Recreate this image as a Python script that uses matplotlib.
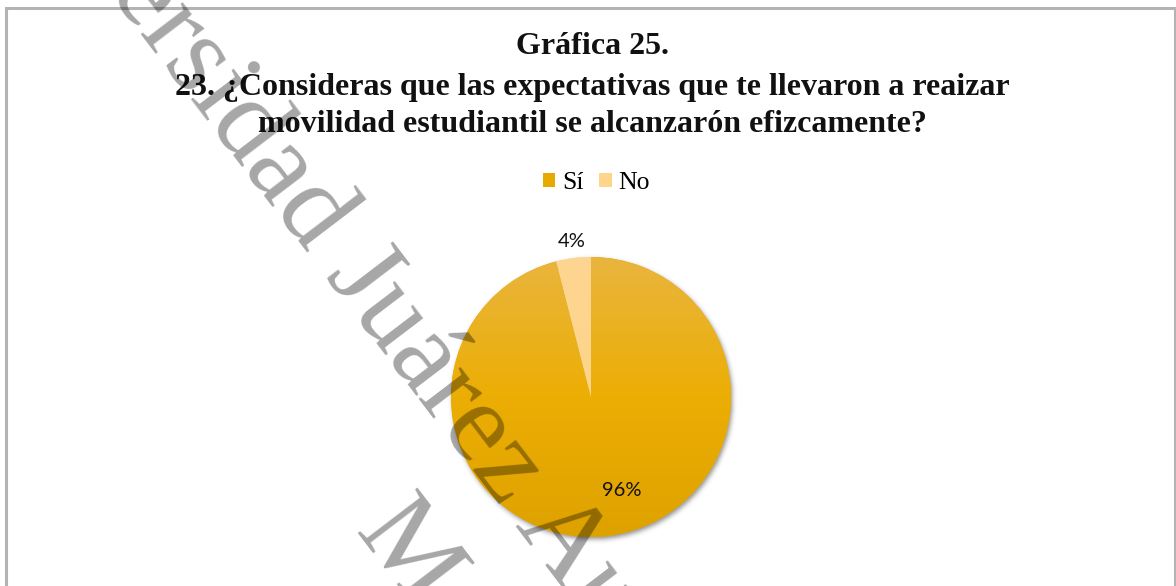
import numpy as np
import matplotlib
matplotlib.use("Agg")
import matplotlib.pyplot as plt
from matplotlib.patches import Patch, Rectangle

# ---- data ----
categories = ["Sí", "No"]
values = [96, 4]
pct_labels = ["96%", "4%"]
title_lines = ["Gráfica 25.",
               "23. ¿Consideras que las expectativas que te llevaron a reaizar",
               "movilidad estudiantil se alcanzarón efizcamente?"]
watermark_lines = ["Universidad Juárez Autónoma de Tabasco", "México"]

W, H = 1176, 586
fig = plt.figure(figsize=(W / 100, H / 100), dpi=100)
fig.patch.set_facecolor("white")

def fx(x):
    return x / W

def fy(y):
    return 1 - y / H

# frame
fig.add_artist(Rectangle((fx(6), fy(708)), fx(1169), 700 / H, transform=fig.transFigure,
                         fill=False, edgecolor="#b3b3b3", linewidth=2.2, zorder=0))

serif = "Liberation Serif"
# title
ty = [47, 87, 125]
for line, y in zip(title_lines, ty):
    fig.text(fx(592), fy(y), line, ha="center", va="center", fontsize=23,
             fontweight="bold", family=serif, color="#111111")

# pie axes
cx, cy, R = 591, 397, 140
M = 1.3
ax = fig.add_axes([fx(cx - M * R), fy(cy + M * R), 2 * M * R / W, 2 * M * R / H])
ax.set_axis_off()

# soft shadow (blurred disk)
n = 400
xs = np.linspace(-M, M, n)
X, Y = np.meshgrid(xs, xs[::-1])
disk = (((X - 0.012) ** 2 + (Y + 0.018) ** 2) <= 1.0).astype(float)
sig = 0.018 / (2 * M / n)
k = np.arange(-int(4 * sig), int(4 * sig) + 1)
ker = np.exp(-k ** 2 / (2 * sig ** 2))
ker /= ker.sum()
blur = np.apply_along_axis(lambda r: np.convolve(r, ker, mode="same"), 0, disk)
blur = np.apply_along_axis(lambda r: np.convolve(r, ker, mode="same"), 1, blur)
rgba = np.zeros((n, n, 4))
rgba[..., 3] = blur * 0.45
ax.imshow(rgba, extent=[-M, M, -M, M], origin="upper", zorder=0, interpolation="bilinear")

colors_mid = ["#ECAD0A", "#FDD68C"]
grads = [((233, 181, 62), (236, 174, 4), (222, 162, 0)),
         ((253, 214, 145), (254, 212, 138), (253, 205, 125))]
wedges, _ = ax.pie(values, startangle=90, counterclock=False, colors=colors_mid,
                   radius=1.0, wedgeprops=dict(linewidth=0))
for w, (c0, c1, c2) in zip(wedges, grads):
    g = np.linspace(0, 1, 256)[:, None]
    c0, c1, c2 = [np.array(c) / 255 for c in (c0, c1, c2)]
    top = np.where(g < 0.5, 1 - 2 * g, 0)
    bot = np.where(g >= 0.5, 2 * g - 1, 0)
    mid = 1 - top - bot
    cols = (top[..., None] * c0 + mid[..., None] * c1 + bot[..., None] * c2)
    cols = np.repeat(cols, 2, axis=1)
    im = ax.imshow(cols, extent=[-1, 1, -1, 1], origin="upper", aspect="auto",
                   interpolation="bilinear", zorder=2)
    im.set_clip_path(w)

ax.set_xlim(-M, M)
ax.set_ylim(-M, M)

# percentage labels
total = sum(values)
label_pos = [(-72, 0.70), (None, 1.12)]
start = 90
for v, lab, (ang, r) in zip(values, pct_labels, label_pos):
    mid_ang = start - 360 * v / total / 2
    start -= 360 * v / total
    a = np.deg2rad(ang if ang is not None else mid_ang)
    ax.text(r * np.cos(a), r * np.sin(a), lab, ha="center", va="center",
            fontsize=14.5, family="Lato", color="#111111", zorder=5)

# legend
handles = [Patch(facecolor=c, edgecolor="none") for c in ["#E8A900", "#FDD68C"]]
fig.legend(handles, categories, loc="center", bbox_to_anchor=(fx(596), fy(183)), ncol=2,
           frameon=False, prop=dict(family=serif, size=18.5), handlelength=0.5,
           handleheight=0.5, handletextpad=0.25, columnspacing=0.6)

# watermark
theta = 52.7
s1 = np.array([-30.0, -190.0])
s2 = np.array([354.0, 532.0])
for line, s in zip(watermark_lines, [s1, s2]):
    fig.text(fx(s[0]), fy(s[1]), line, rotation=-theta, rotation_mode="anchor",
             ha="left", va="baseline", fontsize=82, family=serif, color="black",
             alpha=0.35, zorder=10)

fig.savefig("out.png", dpi=100, facecolor="white")
